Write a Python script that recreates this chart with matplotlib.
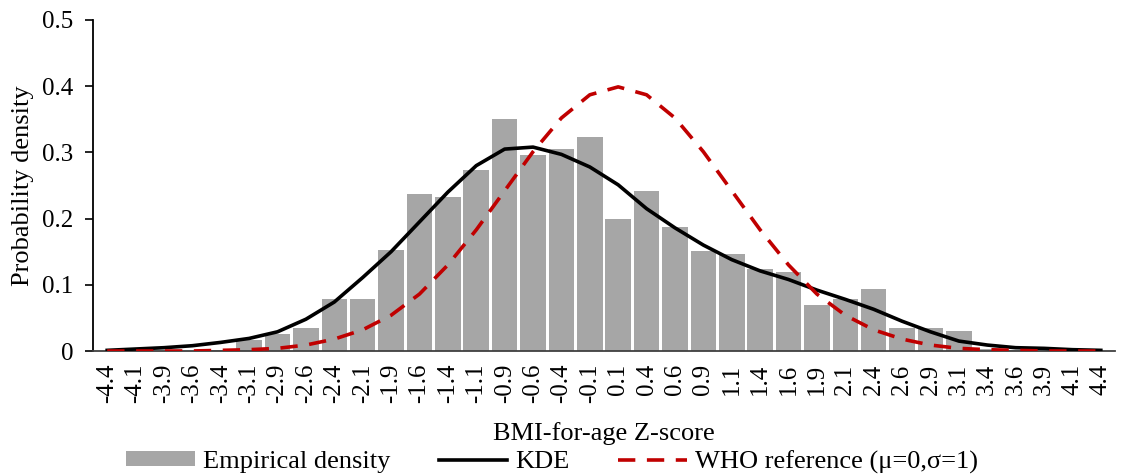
import matplotlib
matplotlib.use("Agg")
import matplotlib.pyplot as plt
import numpy as np

plt.rcParams['font.family'] = ['Liberation Serif', 'DejaVu Serif']

categories = ["-4.4", "-4.1", "-3.9", "-3.6", "-3.4", "-3.1", "-2.9", "-2.6", "-2.4", "-2.1",
              "-1.9", "-1.6", "-1.4", "-1.1", "-0.9", "-0.6", "-0.4", "-0.1", "0.1", "0.4",
              "0.6", "0.9", "1.1", "1.4", "1.6", "1.9", "2.1", "2.4", "2.6", "2.9",
              "3.1", "3.4", "3.6", "3.9", "4.1", "4.4"]

empirical = [0.0, 0.0, 0.0, 0.0, 0.001, 0.016, 0.026, 0.034, 0.079, 0.079,
             0.152, 0.237, 0.232, 0.273, 0.350, 0.296, 0.305, 0.323, 0.200, 0.242,
             0.187, 0.151, 0.146, 0.124, 0.119, 0.070, 0.079, 0.093, 0.034, 0.034,
             0.030, 0.003, 0.002, 0.0, 0.0, 0.0]

kde = [0.001, 0.003, 0.005, 0.008, 0.013, 0.019, 0.029, 0.048, 0.074, 0.111,
       0.150, 0.195, 0.240, 0.280, 0.305, 0.308, 0.297, 0.278, 0.251, 0.215,
       0.186, 0.160, 0.138, 0.121, 0.108, 0.092, 0.078, 0.063, 0.045, 0.029,
       0.015, 0.009, 0.005, 0.004, 0.002, 0.001]

who_ref = [0.000, 0.000, 0.000, 0.000, 0.001, 0.002, 0.004, 0.009, 0.018, 0.032,
           0.054, 0.086, 0.130, 0.183, 0.242, 0.301, 0.352, 0.387, 0.399, 0.387,
           0.352, 0.301, 0.242, 0.183, 0.130, 0.086, 0.054, 0.032, 0.018, 0.009,
           0.004, 0.002, 0.001, 0.000, 0.000, 0.000]

fig = plt.figure(figsize=(11.22, 4.75), dpi=100)
ax = fig.add_axes([93/1122, 1-351/475, (1115-93)/1122, (351-20)/475])

x = np.arange(len(categories))
bars = ax.bar(x, empirical, width=0.9, color="#A6A6A6", label="Empirical density", zorder=2)
kline, = ax.plot(x, kde, color="black", lw=2.6, label="KDE", zorder=3)
wline, = ax.plot(x, who_ref, color="#C00000", lw=2.6, ls=(0, (4.8, 3.2)),
                 label="WHO reference (\u03bc=0,\u03c3=1)", zorder=4)

ax.set_xlim(-0.5, len(categories) - 0.5)
ax.set_ylim(0, 0.5)
ax.set_yticks([0, 0.1, 0.2, 0.3, 0.4, 0.5])
ax.set_yticklabels(["0", "0.1", "0.2", "0.3", "0.4", "0.5"], fontsize=18)
ax.set_xticks(x)
ax.set_xticklabels(categories, rotation=90, fontsize=18)
ax.tick_params(axis='x', length=0, pad=9)
ax.tick_params(axis='y', length=6, width=1.2, direction='out', pad=8)

for s in ["top", "right"]:
    ax.spines[s].set_visible(False)
ax.spines["left"].set_linewidth(1.3)
ax.spines["bottom"].set_linewidth(1.3)
ax.spines["bottom"].set_color("#404040")

ax.set_ylabel("Probability density", fontsize=19, labelpad=6)
ax.set_xlabel("BMI-for-age Z-score", fontsize=19, labelpad=14)

fig.legend(handles=[bars, kline, wline], loc="center", bbox_to_anchor=(0.492, 1 - 462/475),
           ncol=3, frameon=False, fontsize=19, handlelength=2.6, columnspacing=1.85,
           handletextpad=0.3, handleheight=0.5)

fig.savefig("out.png", dpi=100)
